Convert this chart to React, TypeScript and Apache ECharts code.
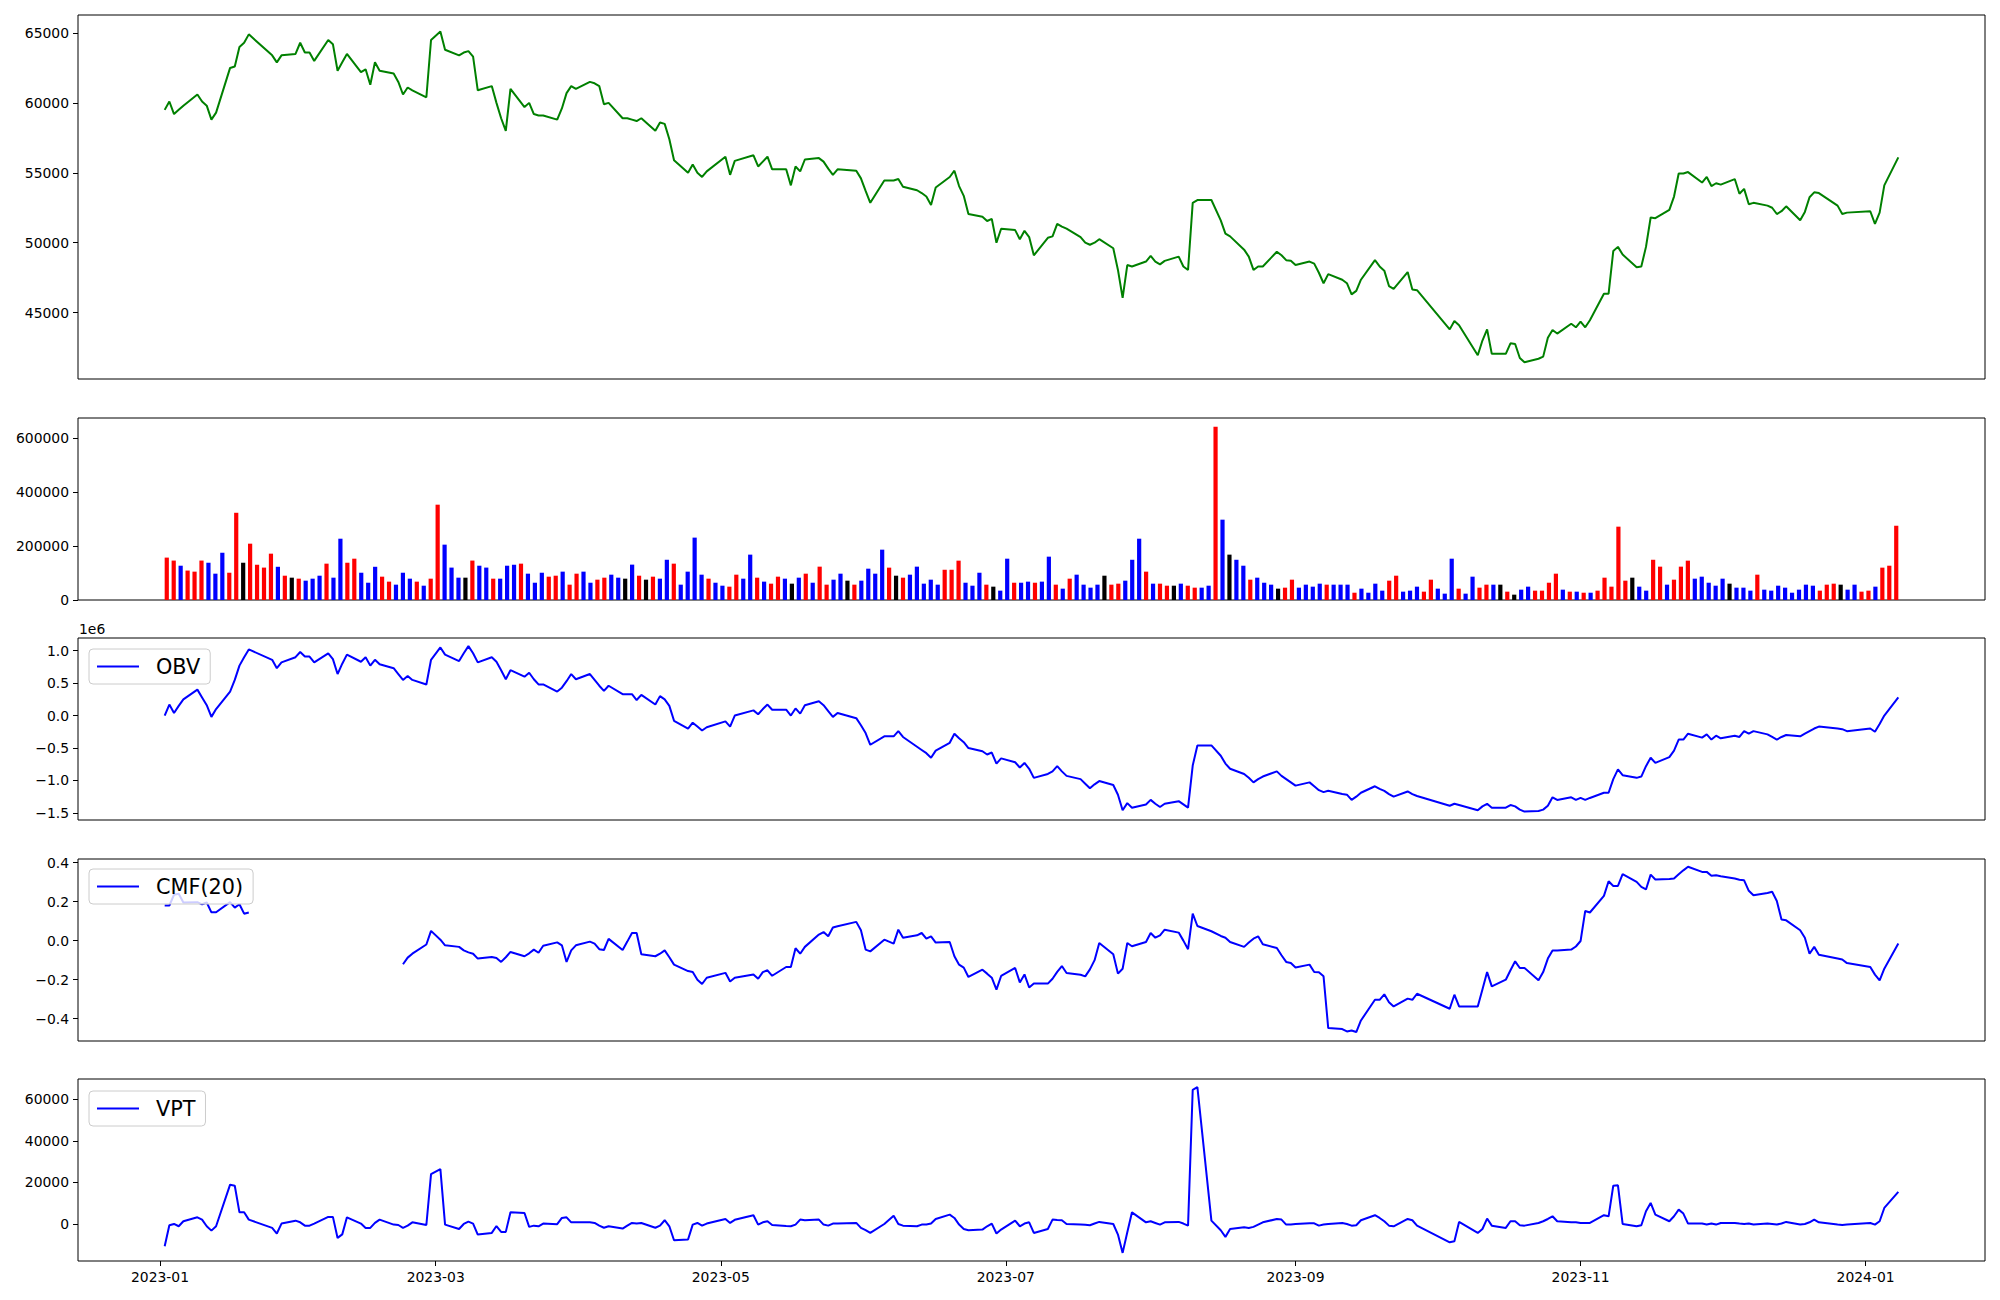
import React, { useEffect, useRef } from "react";
import * as echarts from "echarts";

// ---------- DATA ----------
const firstDay = "2023-01-02";
const lastDay = "2024-01-08";
const marketHolidays = [
  "2023-01-23", "2023-01-24", "2023-03-01", "2023-05-01", "2023-05-05", "2023-05-29",
  "2023-06-06", "2023-08-15", "2023-09-28", "2023-09-29", "2023-10-02", "2023-10-03",
  "2023-10-09", "2023-12-25", "2023-12-29", "2024-01-01",
];
const monthTickLabels = ["2023-01", "2023-03", "2023-05", "2023-07", "2023-09", "2023-11", "2024-01"];

const closePrice = [
  59500, 60100, 59200, 59500, 59800, 60600, 60100, 59800, 58800, 59300,
  62500, 62600, 64000, 64300, 64900, 63400, 62900, 63400, 63500, 64300,
  63600, 63600, 63000, 64500, 64200, 62300, 62900, 63500, 62200, 62400,
  61300, 62900, 62300, 62100, 61500, 60600, 61100, 60900, 60400, 64500,
  65100, 63800, 63400, 63600, 63700, 63300, 60900, 61200, 60000, 58900,
  58000, 61000, 59700, 60000, 59200, 59100, 59100, 58800, 59600, 60700,
  61200, 61000, 61500, 61400, 61200, 59900, 60000, 58900, 58900, 58800,
  58700, 58900, 58000, 58600, 58500, 57400, 55900, 55000, 55600, 55000,
  54700, 55100, 56150, 54850, 55850, 56250, 55450, 55800, 56150, 55250,
  55250, 54100, 55450, 55100, 55950, 56050, 55800, 55300, 54850, 55250,
  55150, 54600, 53700, 52850, 54450, 54450, 54550, 54000, 53750, 53550,
  53300, 52700, 53950, 54700, 55150, 54050, 53350, 52050, 51850, 51550,
  51700, 50000, 51000, 50900, 50250, 50850, 50400, 49100, 50350, 50450,
  51350, 51150, 51000, 50400, 50000, 49850, 50000, 50250, 49600, 48050,
  46050, 48400, 48300, 48650, 49050, 48650, 48450, 48700, 49000, 48300,
  48050, 52850, 53050, 53050, 51600, 50650, 50450, 49500, 49000, 48050,
  48300, 48300, 49350, 49100, 48750, 48700, 48400, 48650, 48500, 47850,
  47100, 47750, 47350, 47100, 46300, 46550, 47350, 48750, 48300, 48000,
  46900, 46700, 47900, 46650, 46600, 43800, 44400, 44100, 41950, 43000,
  43800, 42050, 42050, 42800, 42750, 41750, 41450, 41700, 41850, 43200,
  43750, 43500, 44200, 43950, 44350, 43950, 44450, 46350, 46350, 49400,
  49700, 49150, 48250, 48300, 49700, 51800, 51750, 52350, 53300, 54950,
  54950, 55050, 54300, 54700, 54050, 54250, 54150, 54550, 53500, 53850,
  52750, 52850, 52650, 52500, 52050, 52250, 52600, 51600, 52200, 53250,
  53600, 53550, 52650, 52050, 52150, 52250, 51350, 52150, 54100, 56100,
];

const volume = [
  157000, 146000, 127000, 109000, 105000, 146000, 138000, 97500, 175000, 101000,
  323000, 138000, 208600, 131000, 120000, 171600, 123000, 90000, 82700, 79000,
  71600, 79000, 90000, 134600, 82700, 227000, 138000, 153000, 101000, 64000,
  123000, 86400, 68000, 56800, 101000, 79000, 68000, 53000, 79000, 353000,
  205000, 120000, 82700, 82700, 146000, 127000, 120000, 79000, 79000, 127000,
  131000, 134600, 97500, 64000, 101000, 86400, 90000, 105000, 56800, 97500,
  105000, 64000, 75300, 82700, 93800, 82700, 79000, 131000, 90000, 75300,
  86400, 79000, 149000, 134600, 56800, 105000, 231000, 93800, 79000, 64000,
  53000, 49400, 93800, 79000, 168000, 82700, 68000, 60500, 86400, 79000,
  60500, 82700, 97500, 64000, 123500, 56800, 75300, 97500, 71600, 56800,
  71600, 116000, 97500, 186400, 119800, 90000, 82700, 93800, 123500, 60500,
  75300, 56800, 112000, 112000, 145700, 64000, 53000, 101000, 56800, 49400,
  34600, 153000, 64000, 64000, 68000, 64000, 68000, 160500, 56800, 42000,
  79000, 93800, 56800, 45700, 56800, 90000, 56800, 60500, 71600, 149000,
  227000, 105000, 60500, 60500, 53000, 53000, 60500, 53000, 45700, 45700,
  53000, 642000, 297500, 168000, 149000, 127000, 75300, 82700, 64000, 56800,
  42000, 45700, 75300, 45700, 56800, 49400, 60500, 56800, 56800, 56800,
  56800, 27000, 42000, 27000, 60500, 34600, 71600, 90000, 30900, 34600,
  49400, 30900, 75300, 42000, 23500, 153000, 42000, 23500, 86400, 45700,
  56800, 56800, 56800, 30900, 19800, 38300, 49400, 34600, 34600, 64000,
  97500, 38300, 30900, 30900, 27000, 27000, 34600, 82700, 49400, 271600,
  71600, 82700, 49400, 34600, 149000, 123500, 56800, 75300, 123500, 145700,
  79000, 86400, 64000, 53000, 79000, 60500, 45700, 45700, 34600, 93800,
  38300, 34600, 53000, 45700, 27000, 38300, 56800, 53000, 34600, 56800,
  60500, 56800, 38300, 56800, 30900, 34600, 49400, 119800, 127000, 275000,
];

// R = red, B = blue, K = black
const volumeColorCodes =
  "RRBRRRBBBR" + "RKRRRRBRKR" + "BBBRBBRRBB" + "BRRBBBRBRR" + "BBBKRBBRBB" +
  "BRBBBRRBRR" + "BBRRBBKBRK" + "RBBRBBBBRB" + "BRRBBRBRRB" + "KBRBRRBBKR" +
  "BBBBRKRBBB" + "BBRRRBBBRK" + "BBRBBRBBRB" + "RBBBBKRRBB" + "BRBRRKBRRB" +
  "BRBKBBRBBB" + "KRRBBBBRBB" + "BRBBBBRRBB" + "BRRBBBRBBR" + "RBKRKBBRRR" +
  "RBRBRBRRRR" + "RKBBRRBRRR" + "BBBBBKBBBR" + "BBBBBBBBRR" + "RKBBRRBRRR";

// OBV in units of 1e6
const obvE6 = [
  0.00, 0.17, 0.04, 0.15, 0.25, 0.40, 0.28, 0.16, -0.02, 0.10,
  0.37, 0.55, 0.77, 0.90, 1.02, 0.86, 0.73, 0.82, 0.90, 0.98,
  0.91, 0.91, 0.82, 0.96, 0.87, 0.64, 0.80, 0.94, 0.83, 0.90,
  0.77, 0.86, 0.79, 0.73, 0.64, 0.55, 0.61, 0.55, 0.48, 0.86,
  1.05, 0.94, 0.84, 0.96, 1.07, 0.96, 0.82, 0.90, 0.83, 0.70,
  0.56, 0.70, 0.60, 0.66, 0.56, 0.48, 0.48, 0.37, 0.43, 0.53,
  0.64, 0.56, 0.64, 0.55, 0.46, 0.38, 0.46, 0.33, 0.33, 0.33,
  0.24, 0.32, 0.17, 0.30, 0.25, 0.15, -0.08, -0.20, -0.11, -0.17,
  -0.23, -0.18, -0.09, -0.17, 0.00, 0.08, 0.02, 0.10, 0.17, 0.09,
  0.09, 0.00, 0.11, 0.03, 0.16, 0.22, 0.16, 0.07, -0.02, 0.04,
  -0.04, -0.15, -0.27, -0.45, -0.32, -0.32, -0.24, -0.33, -0.48, -0.53,
  -0.58, -0.65, -0.54, -0.42, -0.28, -0.35, -0.41, -0.50, -0.55, -0.60,
  -0.57, -0.74, -0.66, -0.72, -0.80, -0.73, -0.82, -0.96, -0.90, -0.86,
  -0.78, -0.86, -0.93, -0.98, -1.05, -1.12, -1.06, -1.01, -1.07, -1.22,
  -1.46, -1.35, -1.42, -1.37, -1.30, -1.36, -1.41, -1.36, -1.32, -1.37,
  -1.42, -0.77, -0.46, -0.46, -0.62, -0.74, -0.82, -0.90, -0.96, -1.03,
  -0.98, -0.94, -0.86, -0.93, -0.98, -1.03, -1.08, -1.03, -1.09, -1.15,
  -1.18, -1.16, -1.21, -1.22, -1.30, -1.25, -1.19, -1.09, -1.13, -1.16,
  -1.21, -1.25, -1.17, -1.21, -1.24, -1.39, -1.36, -1.38, -1.46, -1.40,
  -1.36, -1.42, -1.42, -1.38, -1.40, -1.45, -1.48, -1.47, -1.45, -1.39,
  -1.26, -1.30, -1.26, -1.30, -1.27, -1.30, -1.27, -1.19, -1.19, -0.98,
  -0.83, -0.92, -0.96, -0.94, -0.78, -0.65, -0.73, -0.64, -0.54, -0.37,
  -0.37, -0.28, -0.34, -0.29, -0.37, -0.31, -0.35, -0.31, -0.33, -0.24,
  -0.28, -0.24, -0.29, -0.33, -0.37, -0.33, -0.30, -0.32, -0.28, -0.24,
  -0.20, -0.17, -0.20, -0.21, -0.24, -0.20, -0.25, -0.13, 0.00, 0.28,
];

const cmf20 = [
  0.18, 0.18, 0.235, 0.24, 0.195, 0.197, 0.186, 0.195, 0.145, 0.145,
  0.197, 0.169, 0.186, 0.138, 0.144, null, null, null, null, null,
  null, null, null, null, null, null, null, null, null, null,
  null, null, null, null, null, -0.121, -0.087, -0.067, -0.02, 0.05,
  0.005, -0.024, -0.032, -0.05, -0.06, -0.067, -0.092, -0.084, -0.089, -0.109,
  -0.085, -0.058, -0.08, -0.065, -0.046, -0.062, -0.026, -0.009, -0.024, -0.109,
  -0.05, -0.024, -0.005, -0.015, -0.044, -0.048, 0.009, -0.048, -0.005, 0.039,
  0.039, -0.07, -0.08, -0.067, -0.05, -0.085, -0.123, -0.156, -0.161, -0.2,
  -0.222, -0.19, -0.165, -0.209, -0.19, -0.173, -0.195, -0.161, -0.152, -0.18,
  -0.135, -0.135, -0.039, -0.067, -0.032, 0.031, 0.044, 0.022, 0.067, 0.074,
  0.096, 0.053, -0.046, -0.055, 0.005, -0.015, 0.056, 0.015, 0.027, 0.039,
  0.01, 0.022, -0.01, -0.007, -0.08, -0.123, -0.138, -0.186, -0.149, -0.169,
  -0.19, -0.251, -0.181, -0.14, -0.214, -0.173, -0.24, -0.22, -0.22, -0.195,
  -0.16, -0.13, -0.166, -0.175, -0.183, -0.147, -0.1, -0.012, -0.07, -0.169,
  -0.144, -0.012, -0.029, -0.007, 0.039, 0.015, 0.027, 0.056, 0.041, 0.0,
  -0.044, 0.138, 0.075, 0.048, 0.024, 0.015, -0.007, -0.032, -0.01, 0.01,
  0.022, -0.019, -0.038, -0.075, -0.109, -0.115, -0.138, -0.123, -0.161, -0.162,
  -0.183, -0.448, -0.453, -0.465, -0.46, -0.468, -0.409, -0.303, -0.303, -0.275,
  -0.315, -0.337, -0.297, -0.303, -0.272, -0.349, -0.277, -0.337, -0.337, -0.25,
  -0.161, -0.234, -0.2, -0.152, -0.106, -0.14, -0.14, -0.203, -0.161, -0.092,
  -0.05, -0.05, -0.046, -0.03, -0.002, 0.152, 0.144, 0.229, 0.304, 0.28,
  0.28, 0.34, 0.301, 0.275, 0.262, 0.338, 0.313, 0.316, 0.318, 0.34,
  0.36, 0.378, 0.352, 0.352, 0.332, 0.335, 0.33, 0.318, 0.312, 0.309,
  0.255, 0.232, 0.244, 0.25, 0.203, 0.108, 0.104, 0.053, 0.015, -0.067,
  -0.032, -0.072, -0.092, -0.097, -0.115, -0.135, -0.174, -0.203, -0.144, -0.015,
];

const vpt = [
  -10700, -600, 0, -1100, 1300, 3200, 2100, -1100, -3200, -1100,
  18900, 18400, 5600, 5600, 2100, -1900, -4600, 200, 1600, 800,
  -800, -800, 200, 3400, 3400, -6700, -5000, 3200, 200, -1900,
  -1900, 500, 2100, -300, -500, -1900, -800, 800, -500, 24000,
  26400, -300, -2400, 0, 1100, 200, -5100, -4300, -1000, -3800,
  -3800, 5600, 5300, -1400, -800, -1100, 200, -100, 2900, 3200,
  800, 800, 800, 500, -800, -1800, -1100, -2200, -800, 500,
  200, 500, -1800, -800, 1800, -1100, -7800, -7500, -300, 500,
  -800, 200, 2400, 500, 2000, 4200, -300, 800, 1300, -500,
  -1000, -1100, -300, 2100, 1800, 2100, -300, -800, 200, 200,
  500, -1900, -3000, -4300, 0, 4000, 0, -800, -1100, -300,
  -300, 200, 2400, 4500, 2900, -300, -2400, -3000, -2700, -1100,
  200, -4600, -2700, 1600, -1100, 200, 800, -4300, -2400, 2100,
  1900, 1800, 0, -300, -400, -600, 200, 1000, 0, -5100,
  -13900, -4000, 5600, 800, 1300, 500, -300, 800, 1000, 200,
  -800, 64500, 65800, 1600, -3000, -6200, -2400, -1600, -1900, -1400,
  -300, 800, 2400, 2100, -300, -200, 0, 300, 300, -800,
  -300, 0, 500, 0, -800, -600, 1800, 4200, 2900, 1300,
  -800, -1100, 2400, 1800, -800, -8800, -8300, 1000, -4300, -2400,
  2600, -800, -1900, 1300, 1300, -600, -800, 500, 1300, 2400,
  3700, 1300, 800, 800, 500, 500, 500, 4200, 3700, 18400,
  18600, 0, -1100, -600, 6100, 10100, 4500, 1300, 3700, 6900,
  5000, 200, 200, -300, 200, -300, 500, 500, 200, 0,
  200, -300, 200, 0, -300, 200, 1000, -300, 0, 800,
  2100, 800, -300, -500, -300, 500, -300, 1300, 7700, 15400,
];

const priceTicks = [45000, 50000, 55000, 60000, 65000];
const volumeTicks = [0, 200000, 400000, 600000];
const obvTicks = [-1.5, -1.0, -0.5, 0.0, 0.5, 1.0];
const cmfTicks = [-0.4, -0.2, 0.0, 0.2, 0.4];
const vptTicks = [0, 20000, 40000, 60000];

// ---------- helpers ----------
const DAY = 86400000;
function utc(s: string): number {
  const p = s.split("-").map(Number);
  return Date.UTC(p[0], p[1] - 1, p[2] || 1);
}
function buildTradingDays(): number[] {
  const hol = new Set(marketHolidays.map(utc));
  const out: number[] = [];
  for (let t = utc(firstDay); t <= utc(lastDay); t += DAY) {
    const wd = new Date(t).getUTCDay();
    if (wd === 0 || wd === 6 || hol.has(t)) continue;
    out.push(t);
  }
  return out;
}
function fmtMonth(v: number): string {
  const d = new Date(v);
  return d.getUTCFullYear() + "-" + String(d.getUTCMonth() + 1).padStart(2, "0");
}
const minus = (s: string) => s.replace("-", "\u2212");

const FONT = "DejaVu Sans";
const colorMap: Record<string, string> = { R: "#ff0000", B: "#0000ff", K: "#000000" };

export default function App() {
  const ref = useRef<HTMLDivElement>(null);
  useEffect(() => {
    if (!ref.current) return;
    const chart = echarts.init(ref.current, undefined, { renderer: "svg" });
    const dates = buildTradingDays();
    const span = utc(lastDay) - utc(firstDay);
    const xMin = utc(firstDay) - span * 0.05;
    const xMax = utc(lastDay) + span * 0.05;
    const n = volume.length;
    const vMin = -0.3 - (n - 1 + 0.6) * 0.05;
    const vMax = n - 1 + 0.3 + (n - 1 + 0.6) * 0.05;
    const monthMs = monthTickLabels.map(utc);

    const grids = [
      { top: 15, height: 364 },
      { top: 418, height: 182 },
      { top: 638, height: 182 },
      { top: 859, height: 182 },
      { top: 1079, height: 182 },
    ];
    const lbl = { fontFamily: FONT, fontSize: 13.9, color: "#000" };
    const yAx = (gi: number, min: number, max: number, ticks: number[], fmt: (v: number) => string) => ({
      type: "value",
      gridIndex: gi,
      min,
      max,
      axisLine: { show: false, onZero: false },
      splitLine: { show: false },
      axisTick: { show: true, customValues: ticks, length: 5, lineStyle: { color: "#000", width: 1 } },
      axisLabel: { ...lbl, customValues: ticks, formatter: fmt, margin: 9 },
    });
    const xAx = (gi: number, min: number, max: number, showLabels: boolean) => ({
      type: "value",
      gridIndex: gi,
      min,
      max,
      axisLine: { show: false, onZero: false },
      splitLine: { show: false },
      axisTick: showLabels
        ? { show: true, customValues: monthMs, length: 5, lineStyle: { color: "#000", width: 1 } }
        : { show: false },
      axisLabel: showLabels
        ? { ...lbl, customValues: monthMs, formatter: (v: number) => fmtMonth(v), margin: 9 }
        : { show: false },
    });

    const legendCommon = {
      orient: "horizontal",
      icon: "rect",
      itemWidth: 42,
      itemHeight: 2.2,
      backgroundColor: "rgba(255,255,255,0.8)",
      borderColor: "#cccccc",
      borderWidth: 1,
      borderRadius: 4,
      padding: [7, 10, 7, 8],
      selectedMode: false,
      textStyle: { fontFamily: FONT, fontSize: 20.8, color: "#000", padding: [0, 0, 0, 12] },
    };

    const line = (name: string, xi: number, vals: (number | null)[], color: string) => ({
      name,
      type: "line",
      xAxisIndex: xi,
      yAxisIndex: xi,
      data: dates.map((d, i) => [d, vals[i] === null || vals[i] === undefined ? "-" : vals[i]]),
      symbol: "none",
      showSymbol: false,
      connectNulls: false,
      lineStyle: { color, width: 2 },
      itemStyle: { color },
      z: 2,
    });

    chart.setOption({
      animation: false,
      textStyle: { fontFamily: FONT },
      grid: grids.map((g) => ({
        left: 78,
        right: 15,
        top: g.top,
        height: g.height,
        show: true,
        borderColor: "#000",
        borderWidth: 1,
        backgroundColor: "transparent",
      })),
      xAxis: [
        xAx(0, xMin, xMax, false),
        xAx(1, vMin, vMax, false),
        xAx(2, xMin, xMax, false),
        xAx(3, xMin, xMax, false),
        xAx(4, xMin, xMax, true),
      ],
      yAxis: [
        yAx(0, 40250, 66285, priceTicks, (v) => String(v)),
        yAx(1, 0, 674000, volumeTicks, (v) => String(v)),
        yAx(2, -1.61, 1.196, obvTicks, (v) => minus(v.toFixed(1))),
        yAx(3, -0.514, 0.418, cmfTicks, (v) => minus(v.toFixed(1))),
        yAx(4, -17800, 69700, vptTicks, (v) => minus(String(v))),
      ],
      legend: [
        { ...legendCommon, data: ["OBV"], left: 89, top: 649 },
        { ...legendCommon, data: ["CMF(20)"], left: 89, top: 869 },
        { ...legendCommon, data: ["VPT"], left: 89, top: 1091 },
      ],
      graphic: [
        {
          type: "text",
          left: 79,
          top: 622,
          style: { text: "1e6", font: '13.9px "DejaVu Sans"', fill: "#000" },
        },
      ],
      series: [
        line("Close", 0, closePrice, "#008000"),
        {
          name: "Volume",
          type: "bar",
          xAxisIndex: 1,
          yAxisIndex: 1,
          barWidth: 4.2,
          data: volume.map((v, i) => ({
            value: [i, v],
            itemStyle: { color: colorMap[volumeColorCodes[i]] || "#0000ff" },
          })),
        },
        line("OBV", 2, obvE6, "#0000ff"),
        line("CMF(20)", 3, cmf20, "#0000ff"),
        line("VPT", 4, vpt, "#0000ff"),
      ],
    });
    return () => chart.dispose();
  }, []);
  return (
    <div
      ref={ref}
      style={{ position: "absolute", left: 0, top: 0, width: 2000, height: 1300, background: "#fff" }}
    />
  );
}
